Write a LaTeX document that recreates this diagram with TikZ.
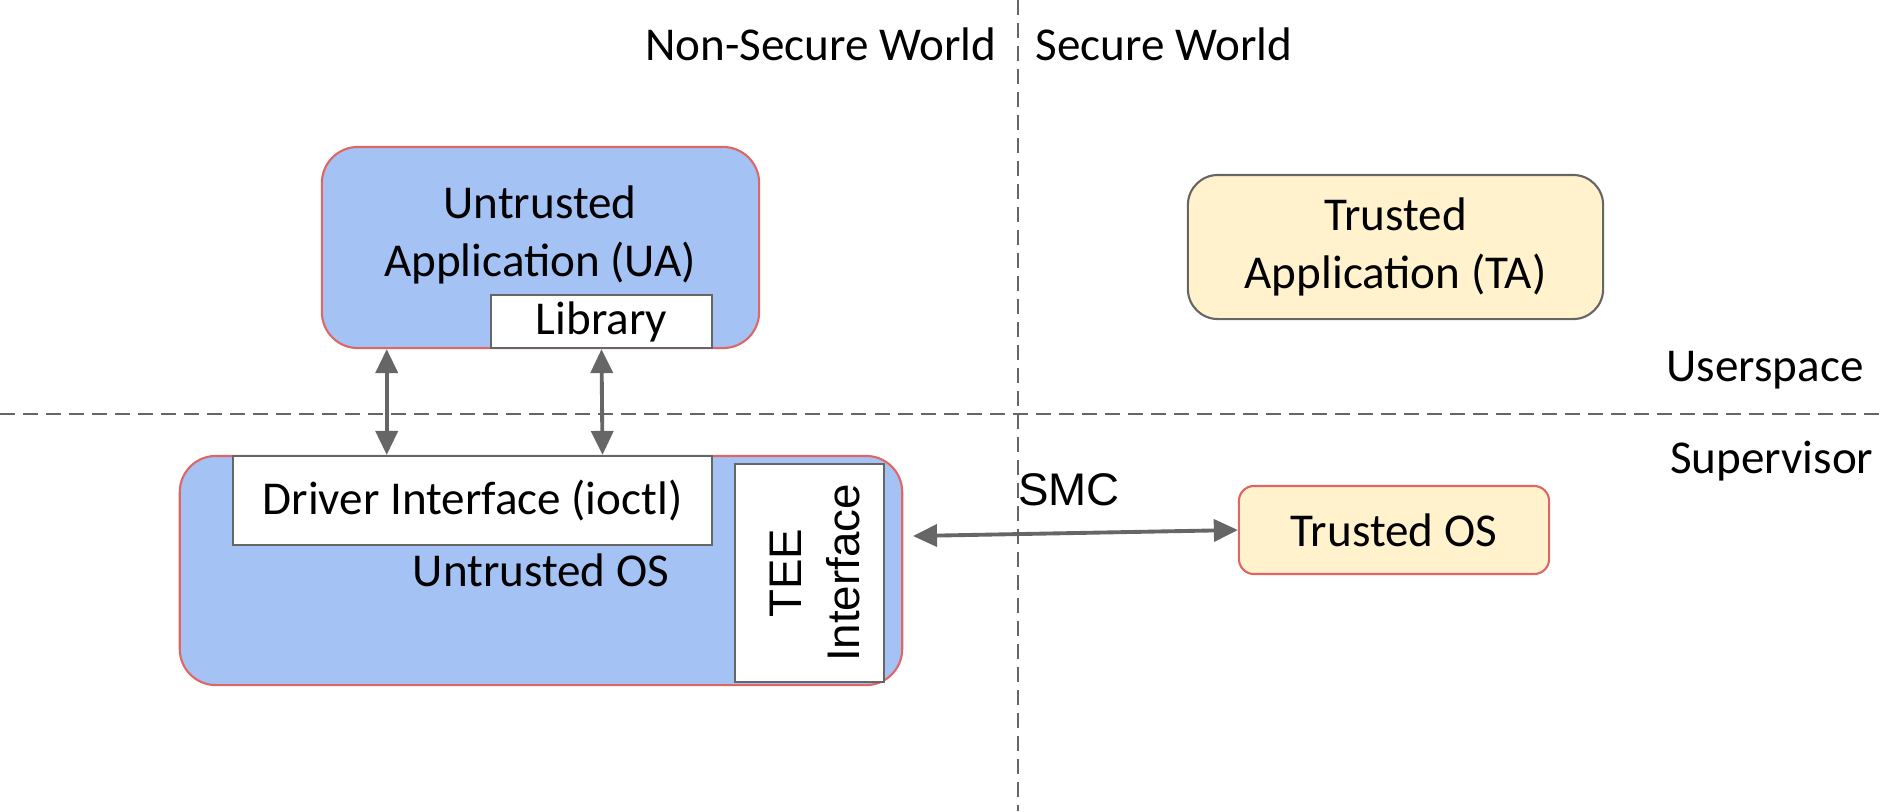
\documentclass[tikz,border=0pt]{standalone}
\usepackage{fontspec}
\setmainfont{Carlito}
\newfontfamily\arialfont{Liberation Sans}
\usetikzlibrary{arrows.meta, positioning, calc}

\definecolor{uablue}{HTML}{A4C2F4}
\definecolor{edgered}{HTML}{E06666}
\definecolor{tayellow}{HTML}{FFF2CC}
\definecolor{linegray}{HTML}{666666}

\begin{document}
\begin{tikzpicture}[
    x=0.01cm, y=-0.01cm,
    font=\fontsize{13.4}{16.4}\selectfont,
    uabox/.style={draw=edgered, line width=0.6pt, fill=uablue, rounded corners=0.36cm, align=center},
    tabox/.style={draw=linegray, line width=0.6pt, fill=tayellow, rounded corners=0.3cm, align=center},
    whitebox/.style={draw=linegray, line width=0.6pt, fill=white, align=center, inner sep=0pt},
    tag/.style={inner sep=0pt},
    divider/.style={draw=linegray, line width=0.6pt, dash pattern=on 0.15cm off 0.08cm},
    arrow/.style={{Triangle[length=0.24cm, width=0.22cm]}-{Triangle[length=0.24cm, width=0.22cm]}, draw=linegray, line width=1.1pt}
]
    \useasboundingbox (0,0) rectangle (1883,811);

    % world and privilege borders
    \draw[divider] (1018,0) -- (1018,811);
    \draw[divider] (0,414) -- (1883,414);
    \node[tag, anchor=east] (nsw) at (997,44) {Non-Secure World};
    \node[tag, anchor=west] (sw) at (1035,44) {Secure World};
    \node[tag] (usr) at (1765,370) {Userspace};
    \node[tag, anchor=east] (sup) at (1874,461) {Supervisor};

    % non-secure side
    \node[uabox, minimum width=4.37cm, minimum height=2.01cm] (ua) at (540.5,247.5) {};
    \node[align=center] (uatext) at (540,235) {Untrusted\\Application (UA)};
    \node[whitebox, minimum width=2.21cm, minimum height=0.53cm] (lib) at (601.5,321.5) {Library};
    \node[uabox, minimum width=7.22cm, minimum height=2.29cm] (uos) at (541,570.5) {Untrusted OS};
    \node[whitebox, minimum width=4.79cm, minimum height=0.89cm] (drv) at (472.5,500.5) {Driver Interface (ioctl)};
    \node[whitebox, minimum width=1.49cm, minimum height=2.18cm] (tee) at (809.5,573) {};
    \node[rotate=90, align=center, font=\arialfont\fontsize{13}{16.4}\selectfont] (teetext) at (815,573) {TEE\\Interface};

    % secure side
    \node[tabox, minimum width=4.15cm, minimum height=1.44cm] (ta) at (1395.5,247) {Trusted\\Application (TA)};
    \node[tabox, draw=edgered, rounded corners=0.15cm, minimum width=3.1cm, minimum height=0.88cm] (tos) at (1394,530) {Trusted OS};

    % calls
    \draw[arrow] ($(ua.south west)!0.15!(ua.south east)$) coordinate (calla) -- (calla |- drv.north);
    \draw[arrow] (lib.south) -- ($(drv.north west)!0.77!(drv.north east)$);
    \coordinate (smcL) at (913,536);
    \draw[arrow] (smcL) -- (tos.west);
    \node[font=\arialfont\fontsize{13}{16.4}\selectfont] (smc) at (1069,490) {SMC};
\end{tikzpicture}
\end{document}
